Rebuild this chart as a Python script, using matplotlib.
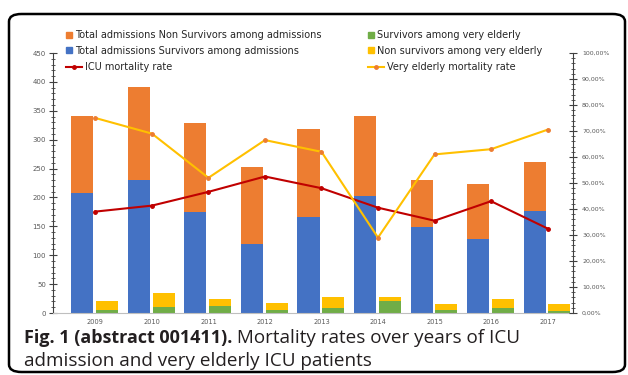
import matplotlib
matplotlib.use("Agg")
import matplotlib.pyplot as plt
import numpy as np
from matplotlib.patches import FancyBboxPatch
from matplotlib.lines import Line2D
from matplotlib.ticker import MultipleLocator, FuncFormatter

# ----------------------
# Data
# ----------------------
years = ["2009", "2010", "2011", "2012", "2013", "2014", "2015", "2016", "2017"]
survivors_all = [208, 230, 175, 120, 166, 203, 148, 128, 176]
non_survivors_all = [133, 162, 153, 133, 153, 138, 83, 96, 85]
survivors_elderly = [5, 10, 12, 5, 9, 20, 5, 8, 3.5]
non_survivors_elderly = [16, 25, 13, 13, 18, 8, 11, 17, 11.5]
icu_rate = [0.39, 0.413, 0.466, 0.525, 0.48, 0.405, 0.355, 0.43, 0.325]
elderly_rate = [0.75, 0.69, 0.52, 0.665, 0.62, 0.29, 0.61, 0.63, 0.705]

BLUE = "#4472C4"
ORANGE = "#ED7D31"
GREEN = "#70AD47"
YELLOW = "#FFC000"
RED = "#C00000"
GREY = "#595959"

W, H = 628, 375
fig = plt.figure(figsize=(W / 100, H / 100), dpi=100)

# rounded frame around the whole panel
frame = FancyBboxPatch((9 / W, 3 / H), (W - 12) / W, (H - 17) / H,
                       boxstyle="round,pad=0,rounding_size=0.02",
                       transform=fig.transFigure, fill=False,
                       edgecolor="black", linewidth=1.8)
fig.patches.append(frame)

ax = fig.add_axes([53 / W, 1 - 313 / H, (573 - 53) / W, (313 - 53) / H])
x = np.arange(len(years))
bw = 0.39

ax.bar(x - 0.23, survivors_all, width=bw, color=BLUE)
ax.bar(x - 0.23, non_survivors_all, width=bw, bottom=survivors_all, color=ORANGE)
ax.bar(x + 0.21, survivors_elderly, width=bw, color=GREEN)
ax.bar(x + 0.21, non_survivors_elderly, width=bw, bottom=survivors_elderly, color=YELLOW)

ax.set_xlim(-0.75, 8.45)
ax.set_ylim(0, 450)
ax.set_xticks(x)
ax.set_xticklabels(years)
ax.yaxis.set_major_locator(MultipleLocator(50))
ax.yaxis.set_minor_locator(MultipleLocator(10))

ax2 = ax.twinx()
ax2.plot(x, icu_rate, color=RED, lw=1.5, marker="o", ms=2.5)
ax2.plot(x, elderly_rate, color=YELLOW, lw=1.5, marker="o", ms=2.5,
         markerfacecolor=ORANGE, markeredgecolor=ORANGE)
ax2.set_ylim(0, 1)
ax2.yaxis.set_major_locator(MultipleLocator(0.1))
ax2.yaxis.set_minor_locator(MultipleLocator(0.02))
ax2.yaxis.set_major_formatter(FuncFormatter(lambda v, p: f"{v * 100:.2f}%".replace(".", ",")))

for a in (ax, ax2):
    for s in a.spines.values():
        s.set_visible(False)
    a.tick_params(axis="y", which="major", direction="inout", length=6,
                  width=0.8, color="#404040", labelcolor=GREY)
    a.tick_params(axis="y", which="minor", direction="inout", length=3,
                  width=0.6, color="#404040")
ax.tick_params(axis="y", labelsize=5, pad=2)
ax2.tick_params(axis="y", labelsize=4.5, pad=3.5)
ax.spines["left"].set_visible(True)
ax.spines["left"].set_color("#404040")
ax.spines["bottom"].set_visible(True)
ax.spines["bottom"].set_color("#bfbfbf")
ax2.spines["right"].set_visible(True)
ax2.spines["right"].set_color("#404040")
ax.tick_params(axis="x", length=0, labelsize=4.8, labelcolor=GREY, pad=4)

# ----------------------
# Legend (square entries and line entries kept apart for handle sizes)
# ----------------------
kw = dict(loc="upper left", frameon=False, fontsize=7, handletextpad=0.35,
          labelspacing=0.6, borderpad=0, borderaxespad=0, labelcolor="#262626")
sq = dict(marker="s", ms=4.5, ls="none")
fig.legend(handles=[Line2D([], [], color=ORANGE, label="Total admissions Non Survivors among admissions", **sq),
                    Line2D([], [], color=BLUE, label="Total admissions Survivors among admissions", **sq)],
           handlelength=0.6, bbox_to_anchor=(66 / W, 1 - 30 / H), **kw)
fig.legend(handles=[Line2D([], [], color=RED, lw=1.5, marker="o", ms=2.5, label="ICU mortality rate")],
           handlelength=1.6, bbox_to_anchor=(66 / W, 1 - 62 / H), **kw)
fig.legend(handles=[Line2D([], [], color=GREEN, label="Survivors among very elderly", **sq),
                    Line2D([], [], color=YELLOW, label="Non survivors among very elderly", **sq)],
           handlelength=0.6, bbox_to_anchor=(368 / W, 1 - 30 / H), **kw)
fig.legend(handles=[Line2D([], [], color=YELLOW, lw=1.5, marker="o", ms=2.5,
                           markerfacecolor=ORANGE, markeredgecolor=ORANGE,
                           label="Very elderly mortality rate")],
           handlelength=1.6, bbox_to_anchor=(368 / W, 1 - 62 / H), **kw)

# ----------------------
# Caption
# ----------------------
cap = fig.text(24 / W, 1 - 338 / H, "Fig. 1 (abstract 001411).", fontsize=13,
               fontweight="bold", family="Open Sans", va="center", color="#231f20")
ax.annotate(" Mortality rates over years of ICU", xy=(1, 0), xycoords=cap,
            va="bottom", ha="left", fontsize=13.6, family="Open Sans",
            color="#231f20", annotation_clip=False)
fig.text(24 / W, 1 - 361 / H, "admission and very elderly ICU patients", fontsize=13.6,
         family="Open Sans", va="center", color="#231f20")

fig.savefig("out.png", dpi=100)
